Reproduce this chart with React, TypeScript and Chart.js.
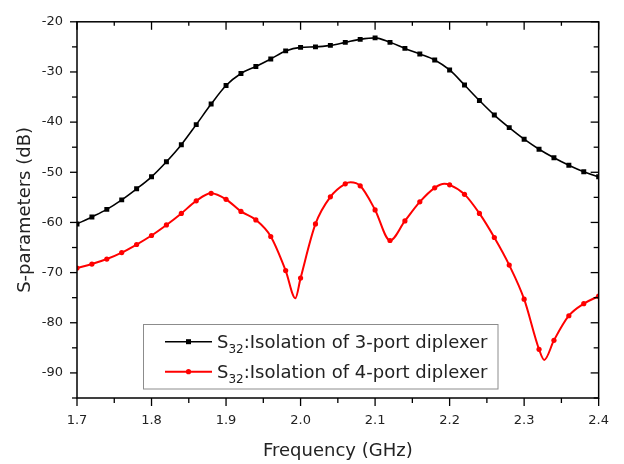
import React, { useEffect, useRef } from "react";
import { Chart, registerables } from "chart.js";

Chart.register(...registerables);

const FONT = "'DejaVu Sans', 'Liberation Sans', sans-serif";
const TEXT_COLOR = "#222222";

// Frequencies (GHz) of the marked samples
const freqs = [
  1.70, 1.72, 1.74, 1.76, 1.78, 1.80, 1.82, 1.84, 1.86, 1.88, 1.90, 1.92,
  1.94, 1.96, 1.98, 2.00, 2.02, 2.04, 2.06, 2.08, 2.10, 2.12, 2.14, 2.16,
  2.18, 2.20, 2.22, 2.24, 2.26, 2.28, 2.30, 2.32, 2.34, 2.36, 2.38, 2.40,
];

// S32 isolation of 3-port diplexer (dB)
const s32ThreePort = [
  -60.3, -58.9, -57.4, -55.5, -53.3, -50.9, -47.9, -44.5, -40.5, -36.4, -32.7, -30.3,
  -28.9, -27.4, -25.8, -25.1, -25.0, -24.7, -24.1, -23.5, -23.2, -24.1, -25.3, -26.4,
  -27.6, -29.6, -32.6, -35.7, -38.6, -41.1, -43.4, -45.4, -47.1, -48.6, -49.9, -50.9,
];

// S32 isolation of 4-port diplexer (dB)
const s32FourPort = [
  -69.1, -68.3, -67.3, -66.0, -64.4, -62.6, -60.5, -58.2, -55.7, -54.2, -55.4, -57.8,
  -59.5, -62.8, -69.6, -71.1, -60.3, -54.9, -52.3, -52.7, -57.5, -63.6, -59.7, -55.9,
  -53.1, -52.5, -54.4, -58.2, -63.0, -68.5, -75.3, -85.3, -83.5, -78.6, -76.2, -74.7,
];

// Unmarked curve extremes of the 4-port trace (between samples)
const fourPortExtraFreqs = [1.993, 2.067, 2.193, 2.327];
const fourPortExtraVals = [-75.1, -52.0, -52.3, -87.4];

const xMajorTicks = [1.7, 1.8, 1.9, 2.0, 2.1, 2.2, 2.3, 2.4];
const yMajorTicks = [-90, -80, -70, -60, -50, -40, -30, -20];

const legendLabels = [":Isolation of 3-port diplexer", ":Isolation of 4-port diplexer"];
const legendSymbol = "S";
const legendSub = "32";
const seriesColors = ["#000000", "#ff0000"];

const framePlugin = {
  id: "originFrame",
  afterDraw(chart: any) {
    const { ctx, chartArea: a, scales } = chart;
    const xs = scales.x;
    const ys = scales.y;
    ctx.save();
    ctx.strokeStyle = "#000";
    ctx.lineWidth = 1.5;
    ctx.strokeRect(a.left, a.top, a.right - a.left, a.bottom - a.top);

    ctx.lineWidth = 1.3;
    const line = (x1: number, y1: number, x2: number, y2: number) => {
      ctx.beginPath();
      ctx.moveTo(x1, y1);
      ctx.lineTo(x2, y2);
      ctx.stroke();
    };
    // X ticks
    for (let i = 0; i < xMajorTicks.length; i++) {
      const px = xs.getPixelForValue(xMajorTicks[i]);
      line(px, a.bottom, px, a.bottom + 8);
      line(px, a.top, px, a.top + 8);
      if (i < xMajorTicks.length - 1) {
        const mx = xs.getPixelForValue((xMajorTicks[i] + xMajorTicks[i + 1]) / 2);
        line(mx, a.bottom, mx, a.bottom + 5);
        line(mx, a.top, mx, a.top + 4);
      }
    }
    // Y ticks
    for (let i = 0; i < yMajorTicks.length; i++) {
      const py = ys.getPixelForValue(yMajorTicks[i]);
      line(a.left - 7, py, a.left, py);
      line(a.right - 8, py, a.right, py);
      const mv = yMajorTicks[i] - 5;
      const my = ys.getPixelForValue(mv);
      line(a.left - 5, my, a.left, my);
      line(a.right - 5, my, a.right, my);
    }

    // Legend
    const bx = 143.5, by = 324.5, bw = 354.5, bh = 64.5;
    ctx.fillStyle = "#fff";
    ctx.fillRect(bx, by, bw, bh);
    ctx.strokeStyle = "#8c8c8c";
    ctx.lineWidth = 1;
    ctx.strokeRect(bx, by, bw, bh);
    const rows = [341.7, 371.7];
    for (let i = 0; i < legendLabels.length; i++) {
      const ry = rows[i];
      ctx.strokeStyle = seriesColors[i];
      ctx.fillStyle = seriesColors[i];
      ctx.lineWidth = i === 0 ? 1.6 : 2;
      line(165, ry, 212, ry);
      if (i === 0) {
        ctx.fillRect(186, ry - 2.5, 5, 5);
      } else {
        ctx.beginPath();
        ctx.arc(188.5, ry, 2.6, 0, Math.PI * 2);
        ctx.fill();
      }
      ctx.fillStyle = TEXT_COLOR;
      ctx.textBaseline = "alphabetic";
      ctx.textAlign = "left";
      let tx = 217;
      const base = ry + 6.5;
      ctx.font = `18px ${FONT}`;
      ctx.fillText(legendSymbol, tx, base);
      tx += ctx.measureText(legendSymbol).width;
      ctx.font = `12px ${FONT}`;
      ctx.fillText(legendSub, tx, base + 5);
      tx += ctx.measureText(legendSub).width;
      ctx.font = `18px ${FONT}`;
      ctx.fillText(legendLabels[i], tx, base);
    }
    ctx.restore();
  },
};

export default function App() {
  const ref = useRef<HTMLCanvasElement>(null);

  useEffect(() => {
    if (!ref.current) return;
    const threeData = freqs.map((f, i) => ({ x: f, y: s32ThreePort[i] }));
    const fourPts = freqs.map((f, i) => ({ x: f, y: s32FourPort[i], m: true }));
    fourPortExtraFreqs.forEach((f, i) => fourPts.push({ x: f, y: fourPortExtraVals[i], m: false }));
    fourPts.sort((p, q) => p.x - q.x);
    const fourData = fourPts.map((p) => ({ x: p.x, y: p.y }));
    const fourRadius = fourPts.map((p) => (p.m ? 2.6 : 0));

    const chart = new Chart(ref.current, {
      type: "line",
      data: {
        datasets: [
          {
            label: "S32:Isolation of 4-port diplexer",
            data: fourData,
            borderColor: seriesColors[1],
            backgroundColor: seriesColors[1],
            borderWidth: 2,
            pointRadius: fourRadius,
            pointStyle: "circle",
            pointBorderWidth: 0,
            cubicInterpolationMode: "monotone",
            fill: false,
          },
          {
            label: "S32:Isolation of 3-port diplexer",
            data: threeData,
            borderColor: seriesColors[0],
            backgroundColor: seriesColors[0],
            borderWidth: 1.6,
            pointRadius: 3.5,
            pointStyle: "rect",
            pointBorderWidth: 0,
            cubicInterpolationMode: "monotone",
            fill: false,
          },
        ],
      },
      options: {
        animation: false,
        responsive: false,
        maintainAspectRatio: false,
        layout: { padding: { left: 0, right: 24, top: 14, bottom: 0 } },
        plugins: { legend: { display: false }, tooltip: { enabled: false } },
        scales: {
          x: {
            type: "linear",
            min: 1.7,
            max: 2.4,
            grid: { display: false, drawTicks: false },
            border: { display: false },
            ticks: {
              stepSize: 0.1,
              includeBounds: false,
              padding: 15,
              color: TEXT_COLOR,
              font: { family: FONT, size: 13 },
              callback: (v: any) => Number(v).toFixed(1),
            },
            title: {
              display: true,
              text: "Frequency (GHz)",
              color: TEXT_COLOR,
              font: { family: FONT, size: 18 },
              padding: { top: 0, bottom: 2 },
            },
            afterFit: (s: any) => {
              s.height = 66;
            },
          },
          y: {
            type: "linear",
            min: -95,
            max: -20,
            grid: { display: false, drawTicks: false },
            border: { display: false },
            ticks: {
              stepSize: 10,
              includeBounds: false,
              padding: 14,
              color: TEXT_COLOR,
              font: { family: FONT, size: 13 },
            },
            title: {
              display: true,
              text: "S-parameters (dB)",
              color: TEXT_COLOR,
              font: { family: FONT, size: 18 },
              padding: { top: 15, bottom: 0 },
            },
            afterFit: (s: any) => {
              s.width = 77;
            },
          },
        },
      },
      plugins: [framePlugin],
    } as any);
    return () => chart.destroy();
  }, []);

  return (
    <div style={{ position: "fixed", left: 0, top: 0, width: 624, height: 464, background: "#fff" }}>
      <canvas ref={ref} width={624} height={464} style={{ width: 624, height: 464, display: "block" }} />
    </div>
  );
}
